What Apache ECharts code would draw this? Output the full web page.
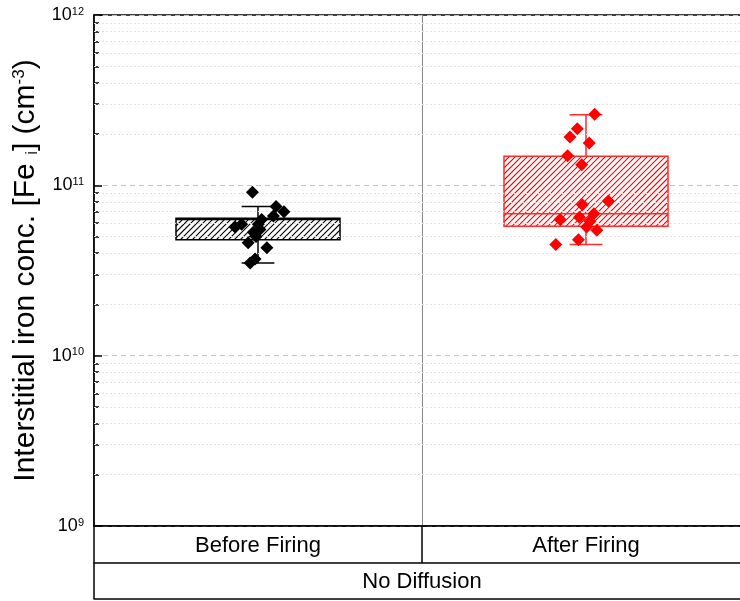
<!DOCTYPE html>
<html><head><meta charset="utf-8">
<script src="https://cdn.jsdelivr.net/npm/echarts@6/dist/echarts.min.js"></script>
<style>html,body{margin:0;padding:0;background:#fff}#c{width:740px;height:601px}</style>
</head><body><div id="c"></div>
<script>
// ---------- data ----------
const categories = ['Before Firing', 'After Firing'];
const groupLabel = ['No Diffusion'];
const yTickExponents = [9, 10, 11, 12];
// box statistics: [min, Q1, median, Q3, max]
const beforeBox = [3.5e10, 4.8e10, 6.3e10, 6.4e10, 7.5e10];
const afterBox  = [4.5e10, 5.75e10, 6.8e10, 1.48e11, 2.6e11];
// individual measurements
const beforeValues = [9.1e10, 7.5e10, 7.0e10, 6.6e10, 6.3e10, 5.9e10, 5.7e10, 5.9e10, 5.5e10, 5.3e10, 5.0e10, 4.6e10, 4.3e10, 3.7e10, 3.5e10];
const beforeJitter = [-0.017, 0.055, 0.079, 0.047, 0.011, -0.050, -0.070, 0.001, 0.006, -0.014, -0.006, -0.030, 0.027, -0.009, -0.024];
const afterValues  = [2.61e11, 2.15e11, 1.92e11, 1.77e11, 1.49e11, 1.32e11, 8.1e10, 7.7e10, 6.8e10, 6.5e10, 6.3e10, 6.15e10, 5.7e10, 5.45e10, 4.8e10, 4.5e10];
const afterJitter  = [0.0265, -0.0265, -0.049, 0.010, -0.056, -0.013, 0.068, -0.011, 0.024, -0.020, -0.079, 0.012, 0.002, 0.033, -0.023, -0.092];

// ---------- helpers ----------
const FONT = 'Liberation Sans, Arial, sans-serif';
const minorValues = [];
for (let e = yTickExponents[0]; e < yTickExponents[yTickExponents.length - 1]; e++)
  for (let k = 2; k <= 9; k++) minorValues.push(k * Math.pow(10, e));

function boxRender(color, hatchColor) {
  return function (params, api) {
    const x = api.value(0);
    const v = [api.value(1), api.value(2), api.value(3), api.value(4), api.value(5)];
    const band = api.size([1, 0])[0];
    const half = band * 0.25, cap = band * 0.05;
    const p = v.map(val => api.coord([x, val]));
    const cx = p[0][0];
    const lw = 1.5;
    const line = (x1, y1, x2, y2) => ({ type: 'line', shape: { x1, y1, x2, y2 }, style: { stroke: color, lineWidth: lw } });
    const x0 = cx - half, x1 = cx + half, yT = p[3][1], yB = p[1][1];
    let d = '';
    const step = 6;
    for (let c = Math.ceil((x0 + yT) / step) * step; c <= x1 + yB; c += step) {
      const xs = Math.max(x0, c - yB), xe = Math.min(x1, c - yT);
      if (xe > xs) d += 'M' + xs.toFixed(2) + ' ' + (c - xs).toFixed(2) + 'L' + xe.toFixed(2) + ' ' + (c - xe).toFixed(2);
    }
    return {
      type: 'group',
      children: [
        line(cx, p[3][1], cx, p[4][1]),
        line(cx, p[1][1], cx, p[0][1]),
        line(cx - cap, p[4][1], cx + cap, p[4][1]),
        line(cx - cap, p[0][1], cx + cap, p[0][1]),
        { type: 'rect', shape: { x: x0, y: yT, width: x1 - x0, height: yB - yT }, style: { fill: '#fff', stroke: null } },
        { type: 'path', shape: { pathData: d }, style: { fill: null, stroke: hatchColor, lineWidth: 1.1 } },
        { type: 'rect', shape: { x: x0, y: yT, width: x1 - x0, height: yB - yT }, style: { fill: null, stroke: color, lineWidth: lw } },
        line(x0, p[2][1], x1, p[2][1])
      ]
    };
  };
}

const chart = echarts.init(document.getElementById('c'), null, { renderer: 'canvas' });
const yMin = Math.pow(10, yTickExponents[0]);
const yMax = Math.pow(10, yTickExponents[yTickExponents.length - 1]);

chart.setOption({
  animation: false,
  backgroundColor: '#fff',
  grid: { left: 94, top: 15, width: 656, height: 511, outerBoundsMode: 'none', containLabel: false,
    show: true, borderColor: '#000', borderWidth: 1.5, backgroundColor: 'transparent' },
  xAxis: [
    { type: 'category', data: categories, position: 'bottom', boundaryGap: true,
      axisLine: { onZero: false, lineStyle: { color: '#000', width: 1.5 } },
      axisTick: { show: true, length: 37, interval: 0, lineStyle: { color: '#000', width: 1.5 } },
      axisLabel: { fontSize: 22, color: '#000', fontFamily: FONT, margin: 9, interval: 0 },
      splitLine: { show: true, interval: 0, lineStyle: { color: '#888', width: 1 } } },
    { type: 'category', data: groupLabel, position: 'bottom', offset: 37, boundaryGap: true,
      axisLine: { onZero: false, lineStyle: { color: '#000', width: 1.5 } },
      axisTick: { show: true, length: 36, interval: 0, lineStyle: { color: '#000', width: 1.5 } },
      axisLabel: { fontSize: 22, color: '#000', fontFamily: FONT, margin: 8 },
      splitLine: { show: false } },
    { type: 'category', data: [''], position: 'bottom', offset: 73,
      axisLine: { onZero: false, lineStyle: { color: '#000', width: 1.5 } },
      axisTick: { show: false }, axisLabel: { show: false }, splitLine: { show: false } },
    { type: 'value', min: -0.5, max: 1.5, show: false, axisLine: { onZero: false } }
  ],
  yAxis: [
    { type: 'log', logBase: 10, min: yMin, max: yMax, position: 'left',
      name: '{t|Interstitial iron conc. [Fe }{sub|i}{t|] (cm}{sup|-3}{t|)}',
      nameLocation: 'middle', nameGap: 52, nameRotate: 90,
      nameTextStyle: { rich: {
        t: { fontSize: 30, fontFamily: FONT, color: '#000' },
        sub: { fontSize: 17, fontFamily: FONT, color: '#000', verticalAlign: 'bottom' },
        sup: { fontSize: 17, fontFamily: FONT, color: '#000', verticalAlign: 'top' } } },
      axisLine: { show: true, onZero: false, lineStyle: { color: '#000', width: 1.5 } },
      axisTick: { show: true, inside: true, length: 8, lineStyle: { color: '#000', width: 1.5 } },
      axisLabel: { margin: 10, formatter: v => '{b|10}{s|' + Math.round(Math.log10(v)) + '}',
        rich: { b: { fontSize: 18, fontFamily: FONT, color: '#000' },
                s: { fontSize: 11, fontFamily: FONT, color: '#000', verticalAlign: 'top' } } },
      splitLine: { show: true, lineStyle: { color: '#c4c4c4', width: 1, type: [5, 4] } } },
    { type: 'value', min: yTickExponents[0], max: yTickExponents[yTickExponents.length - 1], position: 'left',
      axisLine: { show: false, onZero: false }, axisLabel: { show: false }, splitLine: { show: false },
      axisTick: { show: true, inside: true, length: 5, customValues: minorValues.map(v => Math.log10(v)),
        lineStyle: { color: '#000', width: 1.5 } } }
  ],
  series: [
    { type: 'custom', xAxisIndex: 3, yAxisIndex: 0, renderItem: boxRender('#000', '#000'),
      data: [[0].concat(beforeBox)], z: 2, silent: true,
      markLine: { silent: true, symbol: ['none', 'none'], label: { show: false },
        lineStyle: { color: '#e2e2e2', width: 1, type: [2, 2] },
        data: minorValues.map(v => ({ yAxis: v })) } },
    { type: 'custom', xAxisIndex: 3, yAxisIndex: 0, renderItem: boxRender('#ff2a2a', '#ff0000'),
      data: [[1].concat(afterBox)], z: 2, silent: true },
    { type: 'scatter', xAxisIndex: 3, yAxisIndex: 0, symbol: 'diamond', symbolSize: 13,
      itemStyle: { color: '#000', opacity: 1 }, z: 5,
      data: beforeValues.map((v, i) => [0 + beforeJitter[i], v]) },
    { type: 'scatter', xAxisIndex: 3, yAxisIndex: 0, symbol: 'diamond', symbolSize: 13,
      itemStyle: { color: '#ff0000', opacity: 1 }, z: 5,
      data: afterValues.map((v, i) => [1 + afterJitter[i], v]) }
  ]
});
</script></body></html>
